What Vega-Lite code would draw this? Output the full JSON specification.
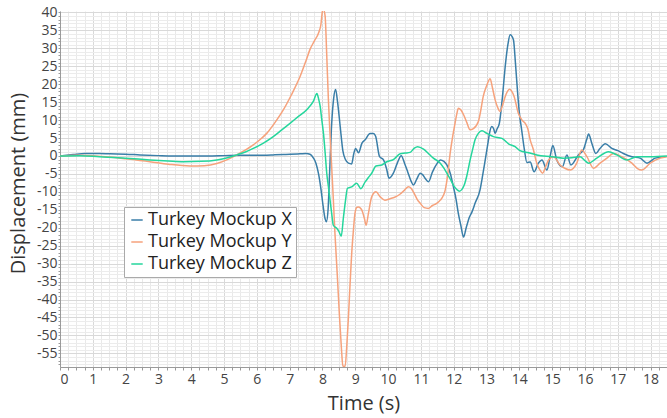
{
  "$schema": "https://vega.github.io/schema/vega-lite/v6.json",
  "width": 607,
  "height": 356,
  "autosize": {"type": "none"},
  "padding": {"left": 60, "top": 11, "right": 0, "bottom": 51},
  "background": "white",
  "config": {"view": {"stroke": null}, "font": "Open Sans"},
  "datasets": {
    "mockupX": [
      {"t": 0, "v": 0}, {"t": 0.4, "v": 0.4}, {"t": 0.76, "v": 0.7}, {"t": 1.2, "v": 0.7}, {"t": 1.52, "v": 0.6},
      {"t": 2.0, "v": 0.5}, {"t": 2.44, "v": 0.3}, {"t": 3.0, "v": 0.1}, {"t": 3.45, "v": 0.0}, {"t": 4.0, "v": 0.0},
      {"t": 4.5, "v": 0.0}, {"t": 5.0, "v": 0.1}, {"t": 5.5, "v": 0.2}, {"t": 6.0, "v": 0.2}, {"t": 6.5, "v": 0.3},
      {"t": 6.81, "v": 0.4}, {"t": 7.32, "v": 0.6}, {"t": 7.5, "v": 0.7}, {"t": 7.62, "v": 0.5}, {"t": 7.72, "v": -0.5},
      {"t": 7.8, "v": -2}, {"t": 7.88, "v": -5}, {"t": 7.95, "v": -9}, {"t": 8.02, "v": -14}, {"t": 8.08, "v": -17.5},
      {"t": 8.12, "v": -18.3}, {"t": 8.17, "v": -15}, {"t": 8.22, "v": -4}, {"t": 8.28, "v": 9}, {"t": 8.34, "v": 16},
      {"t": 8.4, "v": 18.5}, {"t": 8.46, "v": 15}, {"t": 8.54, "v": 8.2}, {"t": 8.62, "v": 1.5}, {"t": 8.7, "v": -1.0},
      {"t": 8.79, "v": -2}, {"t": 8.89, "v": -2.2}, {"t": 8.95, "v": 0.5}, {"t": 9.01, "v": 2.1}, {"t": 9.1, "v": 0.9},
      {"t": 9.2, "v": 3.5}, {"t": 9.3, "v": 4.5}, {"t": 9.45, "v": 6.3}, {"t": 9.55, "v": 6.3}, {"t": 9.62, "v": 5.5},
      {"t": 9.74, "v": -0.2}, {"t": 9.86, "v": -1.1}, {"t": 9.95, "v": -3.5}, {"t": 10.03, "v": -6.2}, {"t": 10.16, "v": -4.8},
      {"t": 10.28, "v": -2}, {"t": 10.4, "v": 0.1}, {"t": 10.5, "v": -2}, {"t": 10.6, "v": -4.5}, {"t": 10.7, "v": -7.0},
      {"t": 10.77, "v": -8.1}, {"t": 10.87, "v": -6.5}, {"t": 10.98, "v": -4.8}, {"t": 11.05, "v": -5.2}, {"t": 11.15, "v": -6.5},
      {"t": 11.23, "v": -7.2}, {"t": 11.35, "v": -4.5}, {"t": 11.5, "v": -2}, {"t": 11.59, "v": -1.1}, {"t": 11.7, "v": -1.5},
      {"t": 11.79, "v": -2.5}, {"t": 11.9, "v": -5}, {"t": 11.99, "v": -8.6}, {"t": 12.07, "v": -12}, {"t": 12.14, "v": -16},
      {"t": 12.22, "v": -19.5}, {"t": 12.3, "v": -22.6}, {"t": 12.38, "v": -20}, {"t": 12.48, "v": -17}, {"t": 12.56, "v": -15.5},
      {"t": 12.65, "v": -13.2}, {"t": 12.8, "v": -9.5}, {"t": 12.88, "v": -5.5}, {"t": 12.96, "v": -1.1}, {"t": 13.05, "v": 4},
      {"t": 13.09, "v": 6.3}, {"t": 13.16, "v": 8.2}, {"t": 13.22, "v": 7.5}, {"t": 13.26, "v": 6.3}, {"t": 13.32, "v": 7.5},
      {"t": 13.39, "v": 9.1}, {"t": 13.48, "v": 16}, {"t": 13.57, "v": 25}, {"t": 13.65, "v": 31}, {"t": 13.72, "v": 33.8},
      {"t": 13.82, "v": 32.4}, {"t": 13.88, "v": 26}, {"t": 13.94, "v": 18.5}, {"t": 14.0, "v": 12}, {"t": 14.07, "v": 7.3},
      {"t": 14.15, "v": 2}, {"t": 14.23, "v": -1.8}, {"t": 14.33, "v": -1.7}, {"t": 14.45, "v": -4.4}, {"t": 14.58, "v": -2},
      {"t": 14.69, "v": -1.1}, {"t": 14.84, "v": -3.9}, {"t": 14.94, "v": 0}, {"t": 15.02, "v": 2.9}, {"t": 15.14, "v": -1.1},
      {"t": 15.31, "v": -3}, {"t": 15.45, "v": 0.3}, {"t": 15.57, "v": -2.5}, {"t": 15.8, "v": 0.3}, {"t": 15.95, "v": 1.7},
      {"t": 16.05, "v": 4.5}, {"t": 16.11, "v": 6.1}, {"t": 16.21, "v": 3.5}, {"t": 16.33, "v": 0.7}, {"t": 16.45, "v": 2},
      {"t": 16.62, "v": 3.4}, {"t": 16.82, "v": 2.1}, {"t": 17.0, "v": 1.5}, {"t": 17.17, "v": 0.7}, {"t": 17.43, "v": -0.2},
      {"t": 17.68, "v": -0.6}, {"t": 17.89, "v": -2}, {"t": 18.14, "v": -0.6}, {"t": 18.45, "v": -0.2}
    ],
    "mockupY": [
      {"t": 0, "v": 0}, {"t": 0.5, "v": 0.2}, {"t": 1.0, "v": 0.1}, {"t": 1.5, "v": -0.3}, {"t": 2.0, "v": -0.8},
      {"t": 2.74, "v": -1.6}, {"t": 3.3, "v": -2.3}, {"t": 3.96, "v": -2.8}, {"t": 4.4, "v": -2.7}, {"t": 4.78, "v": -2.1},
      {"t": 5.1, "v": -1.0}, {"t": 5.39, "v": 0.3}, {"t": 5.6, "v": 1.4}, {"t": 5.89, "v": 3.1}, {"t": 6.1, "v": 4.6},
      {"t": 6.3, "v": 6.3}, {"t": 6.55, "v": 9.3}, {"t": 6.81, "v": 12.9}, {"t": 7.05, "v": 17}, {"t": 7.32, "v": 22.2},
      {"t": 7.5, "v": 26.6}, {"t": 7.62, "v": 29.7}, {"t": 7.75, "v": 32}, {"t": 7.88, "v": 34.3}, {"t": 7.95, "v": 36.5},
      {"t": 8.0, "v": 40.4}, {"t": 8.03, "v": 40.8}, {"t": 8.08, "v": 39}, {"t": 8.13, "v": 28}, {"t": 8.18, "v": 15.7},
      {"t": 8.23, "v": 6}, {"t": 8.28, "v": -3}, {"t": 8.33, "v": -12}, {"t": 8.38, "v": -21.6}, {"t": 8.45, "v": -33},
      {"t": 8.52, "v": -45}, {"t": 8.58, "v": -54}, {"t": 8.62, "v": -58.5}, {"t": 8.69, "v": -58.6}, {"t": 8.74, "v": -53},
      {"t": 8.79, "v": -45}, {"t": 8.85, "v": -34}, {"t": 8.89, "v": -27.2}, {"t": 8.94, "v": -21}, {"t": 8.99, "v": -16},
      {"t": 9.05, "v": -14.3}, {"t": 9.1, "v": -14.2}, {"t": 9.2, "v": -15.1}, {"t": 9.28, "v": -17.5}, {"t": 9.33, "v": -19.3},
      {"t": 9.4, "v": -16}, {"t": 9.5, "v": -11.4}, {"t": 9.63, "v": -10}, {"t": 9.76, "v": -11.4}, {"t": 9.9, "v": -12.3},
      {"t": 10.06, "v": -11.9}, {"t": 10.2, "v": -11.5}, {"t": 10.37, "v": -10.6}, {"t": 10.5, "v": -9.5}, {"t": 10.62, "v": -8.6},
      {"t": 10.7, "v": -9}, {"t": 10.77, "v": -10}, {"t": 10.9, "v": -12.3}, {"t": 10.98, "v": -13.2}, {"t": 11.1, "v": -14.4},
      {"t": 11.23, "v": -14.6}, {"t": 11.35, "v": -13.8}, {"t": 11.48, "v": -13.2}, {"t": 11.59, "v": -12.3}, {"t": 11.69, "v": -10.9},
      {"t": 11.74, "v": -9.5}, {"t": 11.82, "v": -5}, {"t": 11.89, "v": 0.7}, {"t": 11.96, "v": 5}, {"t": 12.04, "v": 9.1},
      {"t": 12.1, "v": 12}, {"t": 12.14, "v": 13.3}, {"t": 12.22, "v": 12.8}, {"t": 12.3, "v": 11.5}, {"t": 12.4, "v": 9.3},
      {"t": 12.5, "v": 7.3}, {"t": 12.6, "v": 7.6}, {"t": 12.75, "v": 9.6}, {"t": 12.82, "v": 12.5}, {"t": 12.9, "v": 16.6},
      {"t": 13.0, "v": 19.5}, {"t": 13.11, "v": 21.5}, {"t": 13.18, "v": 19}, {"t": 13.26, "v": 15.7}, {"t": 13.34, "v": 13.5},
      {"t": 13.41, "v": 12.4}, {"t": 13.5, "v": 14.5}, {"t": 13.57, "v": 16.6}, {"t": 13.7, "v": 18.6}, {"t": 13.84, "v": 16.6},
      {"t": 13.97, "v": 11.9}, {"t": 14.08, "v": 10}, {"t": 14.18, "v": 9.1}, {"t": 14.26, "v": 7.5}, {"t": 14.33, "v": 4.5},
      {"t": 14.42, "v": 2}, {"t": 14.53, "v": -2}, {"t": 14.62, "v": -3.8}, {"t": 14.71, "v": -4.8}, {"t": 14.8, "v": -3},
      {"t": 14.89, "v": -1.1}, {"t": 15.04, "v": -0.2}, {"t": 15.24, "v": -2.5}, {"t": 15.4, "v": -3.5}, {"t": 15.55, "v": -3.9},
      {"t": 15.75, "v": -2}, {"t": 15.9, "v": 1.7}, {"t": 16.06, "v": -0.2}, {"t": 16.26, "v": -3.4}, {"t": 16.46, "v": -2},
      {"t": 16.67, "v": -0.6}, {"t": 16.87, "v": 0.7}, {"t": 17.12, "v": -0.2}, {"t": 17.43, "v": -2}, {"t": 17.6, "v": -3.5},
      {"t": 17.73, "v": -3.9}, {"t": 17.99, "v": -2}, {"t": 18.29, "v": -0.6}, {"t": 18.5, "v": -0.2}
    ],
    "mockupZ": [
      {"t": 0, "v": 0}, {"t": 0.6, "v": 0.1}, {"t": 1.2, "v": -0.2}, {"t": 2.0, "v": -0.6}, {"t": 2.74, "v": -1.1},
      {"t": 3.3, "v": -1.4}, {"t": 3.76, "v": -1.6}, {"t": 4.3, "v": -1.5}, {"t": 4.78, "v": -1.1}, {"t": 5.1, "v": -0.5},
      {"t": 5.39, "v": 0.3}, {"t": 5.65, "v": 1.1}, {"t": 5.89, "v": 2.1}, {"t": 6.2, "v": 3.6}, {"t": 6.5, "v": 5.4},
      {"t": 6.75, "v": 7.2}, {"t": 7.01, "v": 9.1}, {"t": 7.25, "v": 10.9}, {"t": 7.52, "v": 12.9}, {"t": 7.72, "v": 15.2},
      {"t": 7.83, "v": 17.4}, {"t": 7.88, "v": 16}, {"t": 7.93, "v": 13.8}, {"t": 7.98, "v": 10}, {"t": 8.03, "v": 6.3},
      {"t": 8.08, "v": 1}, {"t": 8.13, "v": -4.8}, {"t": 8.18, "v": -8.5}, {"t": 8.23, "v": -12.3}, {"t": 8.28, "v": -16},
      {"t": 8.33, "v": -19.3}, {"t": 8.44, "v": -20.2}, {"t": 8.5, "v": -21}, {"t": 8.57, "v": -22.4}, {"t": 8.64, "v": -17},
      {"t": 8.7, "v": -12.5}, {"t": 8.76, "v": -9}, {"t": 8.89, "v": -8.6}, {"t": 9.04, "v": -7.6}, {"t": 9.17, "v": -9.1},
      {"t": 9.3, "v": -7.2}, {"t": 9.4, "v": -6}, {"t": 9.5, "v": -4.8}, {"t": 9.63, "v": -2.8}, {"t": 9.81, "v": -2.5},
      {"t": 9.96, "v": -1.6}, {"t": 10.16, "v": -1}, {"t": 10.37, "v": 0.6}, {"t": 10.52, "v": 0.8}, {"t": 10.67, "v": 1.0},
      {"t": 10.8, "v": 2.2}, {"t": 10.9, "v": 2.6}, {"t": 11.08, "v": 1.9}, {"t": 11.25, "v": 0.5}, {"t": 11.38, "v": -0.6},
      {"t": 11.59, "v": -2}, {"t": 11.7, "v": -3.4}, {"t": 11.79, "v": -4.8}, {"t": 11.9, "v": -6.5}, {"t": 11.99, "v": -8.1},
      {"t": 12.1, "v": -9.4}, {"t": 12.17, "v": -9.8}, {"t": 12.25, "v": -9.3}, {"t": 12.32, "v": -8.1}, {"t": 12.4, "v": -5.5},
      {"t": 12.5, "v": -1.1}, {"t": 12.58, "v": 2}, {"t": 12.65, "v": 4.5}, {"t": 12.75, "v": 6.3}, {"t": 12.86, "v": 7},
      {"t": 13.01, "v": 6.3}, {"t": 13.21, "v": 5.4}, {"t": 13.47, "v": 4.9}, {"t": 13.67, "v": 3.4}, {"t": 13.87, "v": 2.6},
      {"t": 14.02, "v": 1.5}, {"t": 14.28, "v": 0.9}, {"t": 14.53, "v": 0.3}, {"t": 15.0, "v": -0.2}, {"t": 15.34, "v": -0.6},
      {"t": 15.6, "v": -0.5}, {"t": 15.85, "v": -0.2}, {"t": 16.0, "v": -1.3}, {"t": 16.11, "v": -2}, {"t": 16.36, "v": -0.6},
      {"t": 16.72, "v": 1.2}, {"t": 16.97, "v": 0.3}, {"t": 17.28, "v": -1.1}, {"t": 17.58, "v": -0.2}, {"t": 18.0, "v": -0.2},
      {"t": 18.5, "v": 0}
    ]
  },
  "encoding": {
    "x": {
      "field": "t",
      "type": "quantitative",
      "scale": {"domain": [0, 18.5], "nice": false, "zero": false},
      "axis": {
        "title": "Time (s)",
        "values": [0,0.25,0.5,0.75,1,1.25,1.5,1.75,2,2.25,2.5,2.75,3,3.25,3.5,3.75,4,4.25,4.5,4.75,5,5.25,5.5,5.75,6,6.25,6.5,6.75,7,7.25,7.5,7.75,8,8.25,8.5,8.75,9,9.25,9.5,9.75,10,10.25,10.5,10.75,11,11.25,11.5,11.75,12,12.25,12.5,12.75,13,13.25,13.5,13.75,14,14.25,14.5,14.75,15,15.25,15.5,15.75,16,16.25,16.5,16.75,17,17.25,17.5,17.75,18,18.25,18.5],
        "labelExpr": "datum.value % 1 === 0 ? '' + datum.value : ''",
        "labelOverlap": false,
        "labelFontSize": 14,
        "labelColor": "#444444",
        "labelPadding": 2,
        "tickSize": 3,
        "tickColor": "#9a9a9a",
        "domainColor": "#9a9a9a",
        "grid": true,
        "gridColor": {"condition": {"test": "datum.value % 1 === 0", "value": "#d9d9d9"}, "value": "#e9e9e9"},
        "titleFontSize": 20,
        "titleFontWeight": "normal",
        "titleColor": "#333333",
        "titleY": 42,
        "titleBaseline": "alphabetic"
      }
    },
    "y": {
      "field": "v",
      "type": "quantitative",
      "scale": {"domain": [-58.8, 40.4], "nice": false, "zero": false},
      "axis": {
        "title": "Displacement (mm)",
        "values": [-58,-57,-56,-55,-54,-53,-52,-51,-50,-49,-48,-47,-46,-45,-44,-43,-42,-41,-40,-39,-38,-37,-36,-35,-34,-33,-32,-31,-30,-29,-28,-27,-26,-25,-24,-23,-22,-21,-20,-19,-18,-17,-16,-15,-14,-13,-12,-11,-10,-9,-8,-7,-6,-5,-4,-3,-2,-1,0,1,2,3,4,5,6,7,8,9,10,11,12,13,14,15,16,17,18,19,20,21,22,23,24,25,26,27,28,29,30,31,32,33,34,35,36,37,38,39,40],
        "labelExpr": "datum.value % 5 === 0 ? '' + datum.value : ''",
        "labelOverlap": false,
        "labelFontSize": 14,
        "labelColor": "#444444",
        "labelPadding": 1,
        "tickSize": 2,
        "tickColor": "#9a9a9a",
        "domainColor": "#9a9a9a",
        "grid": true,
        "gridColor": {"condition": {"test": "datum.value % 5 === 0", "value": "#d9d9d9"}, "value": "#ececec"},
        "titleFontSize": 20,
        "titleFontWeight": "normal",
        "titleColor": "#333333",
        "titleAngle": -90,
        "titleX": -42,
        "titleY": 172,
        "titleAlign": "center",
        "titleBaseline": "middle"
      }
    }
  },
  "layer": [
    {
      "data": {"name": "mockupX"},
      "mark": {"type": "line", "interpolate": "monotone", "strokeWidth": 1.5, "clip": true},
      "encoding": {"color": {"datum": "Turkey Mockup X"}}
    },
    {
      "data": {"name": "mockupY"},
      "mark": {"type": "line", "interpolate": "monotone", "strokeWidth": 1.5, "clip": true},
      "encoding": {"color": {"datum": "Turkey Mockup Y"}}
    },
    {
      "data": {"name": "mockupZ"},
      "mark": {"type": "line", "interpolate": "monotone", "strokeWidth": 1.5, "clip": true},
      "encoding": {
        "color": {
          "datum": "Turkey Mockup Z",
          "type": "nominal",
          "scale": {
            "domain": ["Turkey Mockup X", "Turkey Mockup Y", "Turkey Mockup Z"],
            "range": ["#3a7ea8", "#f6a27c", "#25d69c"]
          },
          "legend": {
            "title": null,
            "orient": "none",
            "legendX": 64,
            "legendY": 196,
            "symbolType": "stroke",
            "symbolSize": 130,
            "symbolStrokeWidth": 1.5,
            "labelFont": "Open Sans",
            "labelFontSize": 18,
            "labelColor": "#222222",
            "labelOffset": 2,
            "rowPadding": 4,
            "padding": 4,
            "strokeColor": "#aaaaaa",
            "fillColor": "white"
          }
        }
      }
    }
  ]
}
